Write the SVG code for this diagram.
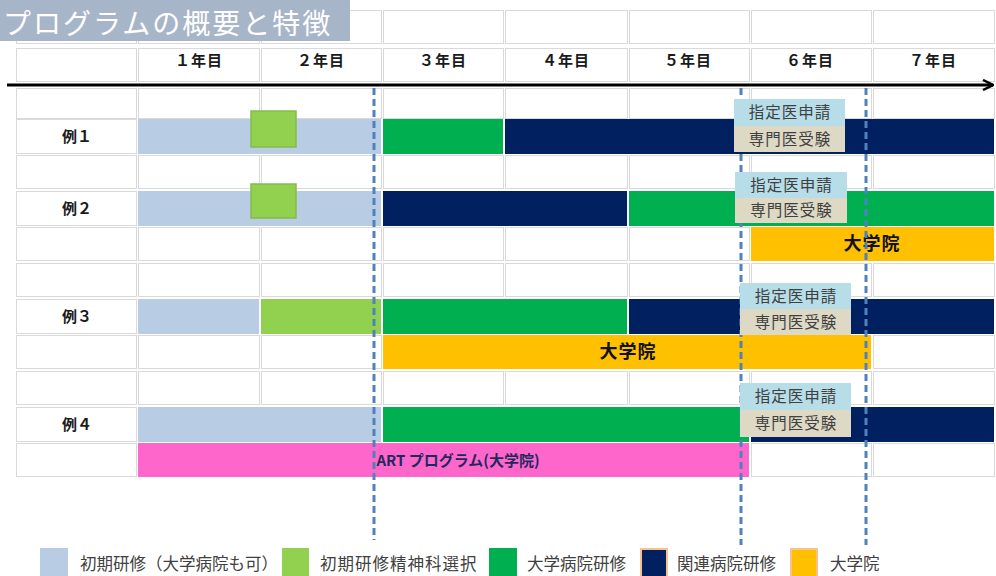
<svg xmlns="http://www.w3.org/2000/svg" width="996" height="576" viewBox="0 0 996 576">
<defs>
<style>
.cell{fill:#fff;stroke:#D9D9D9;stroke-width:1}
.jp{font-family:"Noto Sans CJK JP","Liberation Sans",sans-serif}
.hd{font-size:15px;font-weight:bold;fill:#1a1a1a;text-anchor:middle;letter-spacing:1px}
.lb{font-size:15px;font-weight:bold;fill:#1a1a1a;text-anchor:middle}
.ib{fill:#B8CCE4}
.lg{fill:#92D050}
.gr{fill:#00B050}
.nv{fill:#002060}
.yl{fill:#FFC000}
.pk{fill:#FF66CC}
.sq{fill:#92D050;stroke:#86BB4A;stroke-width:1.5}
.dash{stroke:#4F81BD;stroke-width:3;stroke-dasharray:7 4;fill:none}
.b1{fill:#B7DDE8}
.b2{fill:#DDD9C4}
.bt{font-size:15.5px;fill:#404040;text-anchor:middle;letter-spacing:1px}
.lt{font-size:16.5px;fill:#404040}
.big{font-size:18px;font-weight:bold;fill:#111;text-anchor:middle;letter-spacing:1px}
</style>
<marker id="ah" viewBox="0 0 12 12" refX="11" refY="6" markerWidth="12" markerHeight="12" markerUnits="userSpaceOnUse" orient="auto">
<path d="M1,1 L11,6 L1,11" fill="none" stroke="#000" stroke-width="2.5"/>
</marker>
</defs>
<rect width="996" height="576" fill="#fff"/>

<g id="grid">
<g id="row0">
<rect class="cell" x="16.5" y="10.5" width="120" height="33"/><rect class="cell" x="138.5" y="10.5" width="121" height="33"/><rect class="cell" x="261.5" y="10.5" width="120" height="33"/><rect class="cell" x="383.5" y="10.5" width="120" height="33"/><rect class="cell" x="505.5" y="10.5" width="122" height="33"/><rect class="cell" x="629.5" y="10.5" width="120" height="33"/><rect class="cell" x="751.5" y="10.5" width="120" height="33"/><rect class="cell" x="873.5" y="10.5" width="121" height="33"/>
</g>
<g id="row1">
<rect class="cell" x="16.5" y="48.5" width="120" height="33"/><rect class="cell" x="138.5" y="48.5" width="121" height="33"/><rect class="cell" x="261.5" y="48.5" width="120" height="33"/><rect class="cell" x="383.5" y="48.5" width="120" height="33"/><rect class="cell" x="505.5" y="48.5" width="122" height="33"/><rect class="cell" x="629.5" y="48.5" width="120" height="33"/><rect class="cell" x="751.5" y="48.5" width="120" height="33"/><rect class="cell" x="873.5" y="48.5" width="121" height="33"/>
</g>
<g id="rows">
<g transform="translate(0,88)"><rect class="cell" x="16.5" y="0.5" width="120" height="30"/><rect class="cell" x="138.5" y="0.5" width="121" height="30"/><rect class="cell" x="261.5" y="0.5" width="120" height="30"/><rect class="cell" x="383.5" y="0.5" width="120" height="30"/><rect class="cell" x="505.5" y="0.5" width="122" height="30"/><rect class="cell" x="629.5" y="0.5" width="120" height="30"/><rect class="cell" x="751.5" y="0.5" width="120" height="30"/><rect class="cell" x="873.5" y="0.5" width="121" height="30"/></g>
<g transform="translate(0,119)"><rect class="cell" x="16.5" y="0.5" width="120" height="34"/></g>
<g transform="translate(0,155)"><rect class="cell" x="16.5" y="0.5" width="120" height="33"/><rect class="cell" x="138.5" y="0.5" width="121" height="33"/><rect class="cell" x="261.5" y="0.5" width="120" height="33"/><rect class="cell" x="383.5" y="0.5" width="120" height="33"/><rect class="cell" x="505.5" y="0.5" width="122" height="33"/><rect class="cell" x="629.5" y="0.5" width="120" height="33"/><rect class="cell" x="751.5" y="0.5" width="120" height="33"/><rect class="cell" x="873.5" y="0.5" width="121" height="33"/></g>
<g transform="translate(0,191)"><rect class="cell" x="16.5" y="0.5" width="120" height="34"/></g>
<g transform="translate(0,227)"><rect class="cell" x="16.5" y="0.5" width="120" height="33"/><rect class="cell" x="138.5" y="0.5" width="121" height="33"/><rect class="cell" x="261.5" y="0.5" width="120" height="33"/><rect class="cell" x="383.5" y="0.5" width="120" height="33"/><rect class="cell" x="505.5" y="0.5" width="122" height="33"/><rect class="cell" x="629.5" y="0.5" width="120" height="33"/></g>
<g transform="translate(0,263)"><rect class="cell" x="16.5" y="0.5" width="120" height="33"/><rect class="cell" x="138.5" y="0.5" width="121" height="33"/><rect class="cell" x="261.5" y="0.5" width="120" height="33"/><rect class="cell" x="383.5" y="0.5" width="120" height="33"/><rect class="cell" x="505.5" y="0.5" width="122" height="33"/><rect class="cell" x="629.5" y="0.5" width="120" height="33"/><rect class="cell" x="751.5" y="0.5" width="120" height="33"/><rect class="cell" x="873.5" y="0.5" width="121" height="33"/></g>
<g transform="translate(0,299)"><rect class="cell" x="16.5" y="0.5" width="120" height="34"/></g>
<g transform="translate(0,335)"><rect class="cell" x="16.5" y="0.5" width="120" height="33"/><rect class="cell" x="138.5" y="0.5" width="121" height="33"/><rect class="cell" x="261.5" y="0.5" width="120" height="33"/><rect class="cell" x="873.5" y="0.5" width="121" height="33"/></g>
<g transform="translate(0,371)"><rect class="cell" x="16.5" y="0.5" width="120" height="33"/><rect class="cell" x="138.5" y="0.5" width="121" height="33"/><rect class="cell" x="261.5" y="0.5" width="120" height="33"/><rect class="cell" x="383.5" y="0.5" width="120" height="33"/><rect class="cell" x="505.5" y="0.5" width="122" height="33"/><rect class="cell" x="629.5" y="0.5" width="120" height="33"/><rect class="cell" x="751.5" y="0.5" width="120" height="33"/><rect class="cell" x="873.5" y="0.5" width="121" height="33"/></g>
<g transform="translate(0,407)"><rect class="cell" x="16.5" y="0.5" width="120" height="34"/></g>
<g transform="translate(0,443)"><rect class="cell" x="16.5" y="0.5" width="120" height="33"/><rect class="cell" x="751.5" y="0.5" width="120" height="33"/><rect class="cell" x="873.5" y="0.5" width="121" height="33"/></g>
</g>
</g>

<g id="title">
<rect x="0" y="0" width="350" height="41" fill="#A7B5C9"/>
<text x="3" y="34" class="jp" font-size="28" letter-spacing="2" fill="#fff">プログラムの概要と特徴</text>
</g>

<g id="header" class="jp">
<text class="hd" x="199" y="66">１年目</text>
<text class="hd" x="321" y="66">２年目</text>
<text class="hd" x="443" y="66">３年目</text>
<text class="hd" x="566" y="66">４年目</text>
<text class="hd" x="688" y="66">５年目</text>
<text class="hd" x="810" y="66">６年目</text>
<text class="hd" x="933" y="66">７年目</text>
</g>

<g id="ex1">
<text class="jp lb" x="77" y="142">例１</text>
<rect class="ib" x="138" y="119" width="243" height="35"/>
<rect class="gr" x="383" y="119" width="120" height="35"/>
<rect class="nv" x="505" y="119" width="489" height="35"/>
<rect class="sq" x="251" y="111" width="45" height="36"/>
</g>

<g id="ex2">
<text class="jp lb" x="77" y="214">例２</text>
<rect class="ib" x="138" y="191" width="243" height="35"/>
<rect class="nv" x="383" y="191" width="244" height="35"/>
<rect class="gr" x="629" y="191" width="365" height="35"/>
<rect class="sq" x="251" y="184" width="45" height="34"/>
<rect class="yl" x="751" y="227" width="243" height="34"/>
<text class="jp big" x="872" y="250">大学院</text>
</g>

<g id="ex3">
<text class="jp lb" x="77" y="322">例３</text>
<rect class="ib" x="138" y="299" width="121" height="35"/>
<rect class="lg" x="261" y="299" width="120" height="35"/>
<rect class="gr" x="383" y="299" width="244" height="35"/>
<rect class="nv" x="629" y="299" width="365" height="35"/>
<rect class="yl" x="383" y="335" width="488" height="34"/>
<text class="jp big" x="628" y="358">大学院</text>
</g>

<g id="ex4">
<text class="jp lb" x="77" y="430">例４</text>
<rect class="ib" x="138" y="407" width="243" height="35"/>
<rect class="gr" x="383" y="407" width="366" height="35"/>
<rect class="nv" x="751" y="407" width="243" height="35"/>
<rect class="pk" x="138" y="443" width="611" height="34"/>
<text class="jp" x="458" y="466" font-size="15" font-weight="bold" fill="#1F2A5C" text-anchor="middle">ART プログラム(大学院)</text>
</g>

<g id="connectors">
<line x1="7" y1="85" x2="993" y2="85" stroke="#000" stroke-width="3" marker-end="url(#ah)"/>
<line class="dash" x1="374" y1="88" x2="374" y2="540"/>
<line class="dash" x1="741" y1="88" x2="741" y2="545"/>
<line class="dash" x1="866" y1="88" x2="866" y2="545"/>
</g>

<g id="milestone1" class="jp">
<rect class="b1" x="734" y="99" width="111" height="27"/>
<rect class="b2" x="734" y="126" width="111" height="26"/>
<text class="bt" x="790" y="118">指定医申請</text>
<text class="bt" x="790" y="145">専門医受験</text>
</g>
<g id="milestone2" class="jp">
<rect class="b1" x="735" y="172" width="112" height="26"/>
<rect class="b2" x="735" y="198" width="112" height="25"/>
<text class="bt" x="791.5" y="191">指定医申請</text>
<text class="bt" x="791.5" y="216">専門医受験</text>
</g>
<g id="milestone3" class="jp">
<rect class="b1" x="740" y="283" width="111" height="26"/>
<rect class="b2" x="740" y="309" width="111" height="26"/>
<text class="bt" x="796" y="302">指定医申請</text>
<text class="bt" x="796" y="328">専門医受験</text>
</g>
<g id="milestone4" class="jp">
<rect class="b1" x="740" y="383" width="111" height="27"/>
<rect class="b2" x="740" y="410" width="111" height="27"/>
<text class="bt" x="796" y="402">指定医申請</text>
<text class="bt" x="796" y="429">専門医受験</text>
</g>

<g id="legend" class="jp">
<rect x="40" y="548" width="28" height="30" fill="#B8CCE4"/>
<text class="lt" x="80" y="570">初期研修（大学病院も可）</text>
<rect x="282" y="548" width="27" height="30" fill="#92D050"/>
<text class="lt" x="320" y="570" letter-spacing="1">初期研修精神科選択</text>
<rect x="489" y="548" width="28" height="30" fill="#00B050"/>
<text class="lt" x="527" y="570">大学病院研修</text>
<rect x="641" y="549" width="26" height="29" fill="#002060" stroke="#F9C090" stroke-width="2"/>
<text class="lt" x="677" y="570">関連病院研修</text>
<rect x="791" y="549" width="26" height="29" fill="#FFC000" stroke="#F9C090" stroke-width="2"/>
<text class="lt" x="830" y="570">大学院</text>
</g>
</svg>
